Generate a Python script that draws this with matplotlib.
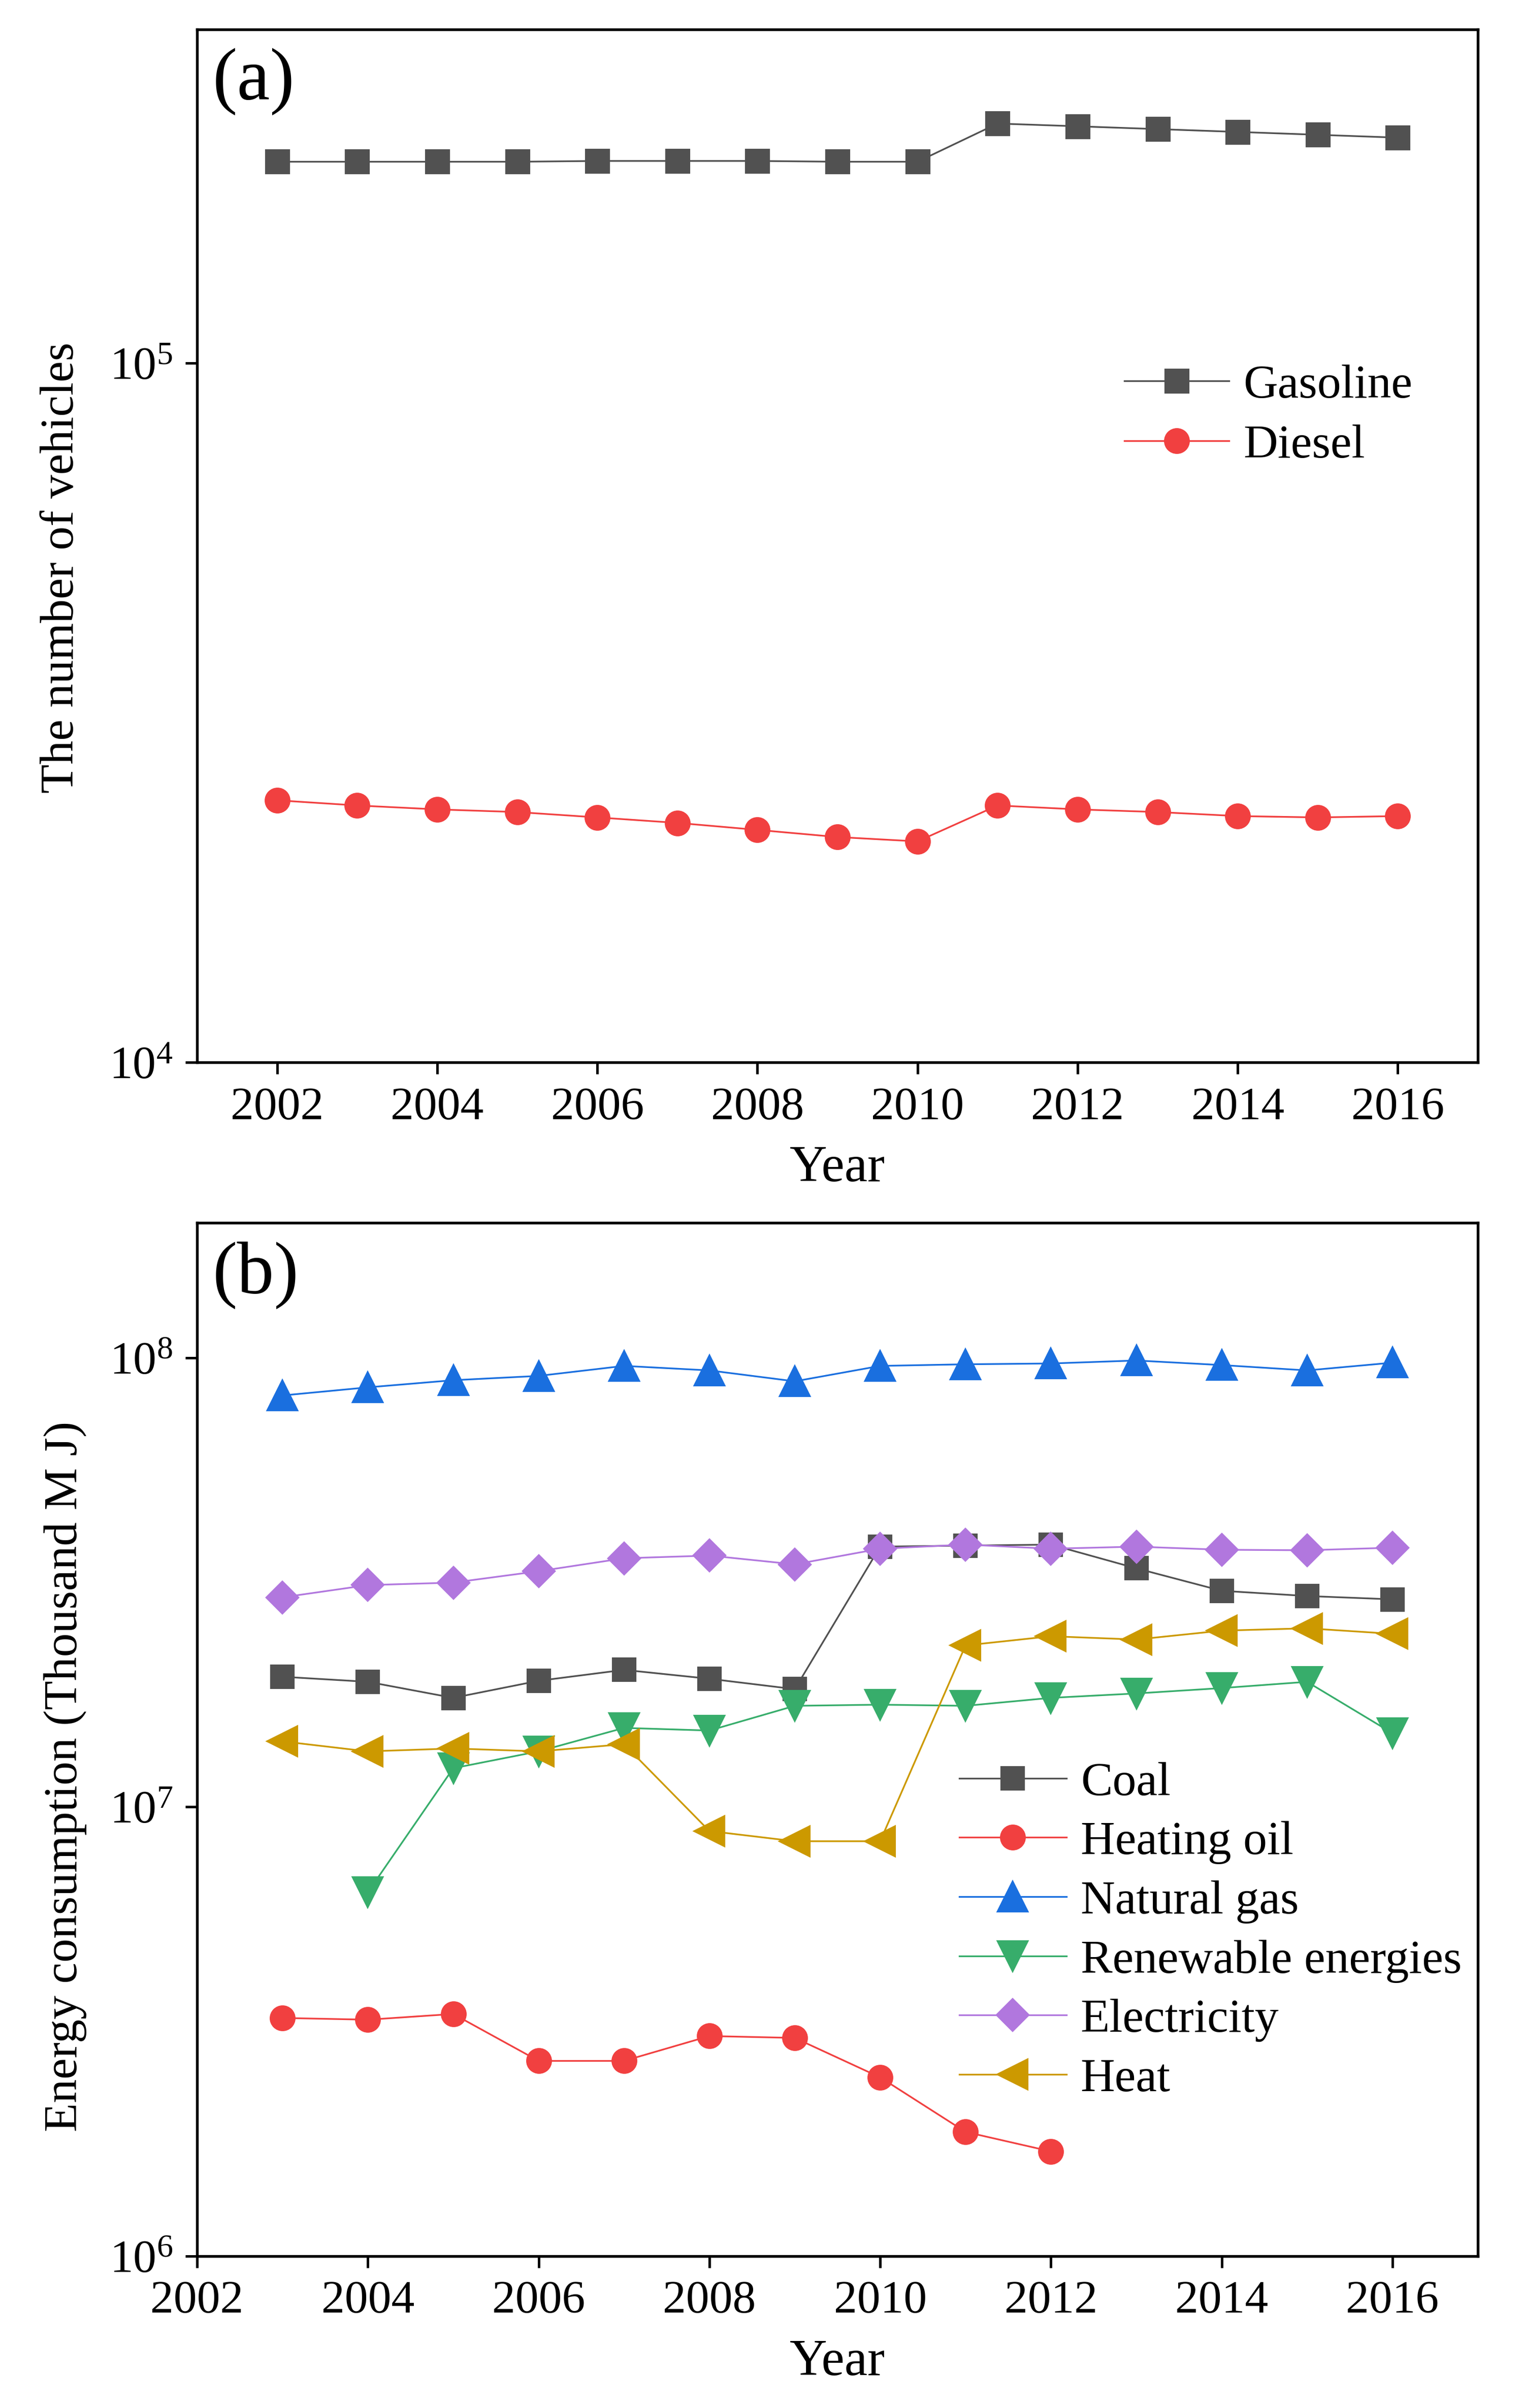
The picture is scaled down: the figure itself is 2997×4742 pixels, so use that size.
import numpy as np
import matplotlib
matplotlib.use("Agg")
import matplotlib.pyplot as plt
from matplotlib.ticker import NullLocator, LogLocator

# Times-like look
matplotlib.rcParams['font.family'] = ['Liberation Serif', 'DejaVu Serif']
matplotlib.rcParams['mathtext.fontset'] = 'custom'
matplotlib.rcParams['mathtext.rm'] = 'Liberation Serif'
matplotlib.rcParams['mathtext.it'] = 'Liberation Serif:italic'

# (a) number of vehicles
years_a = [2002, 2003, 2004, 2005, 2006, 2007, 2008, 2009, 2010, 2011, 2012, 2013, 2014, 2015, 2016]
gasoline = [1.94e5, 1.94e5, 1.94e5, 1.94e5, 1.945e5, 1.945e5, 1.945e5, 1.94e5, 1.94e5,
            2.20e5, 2.18e5, 2.16e5, 2.14e5, 2.12e5, 2.10e5]
diesel = [2.37e4, 2.33e4, 2.30e4, 2.28e4, 2.24e4, 2.20e4, 2.15e4, 2.10e4, 2.07e4,
          2.33e4, 2.30e4, 2.28e4, 2.25e4, 2.24e4, 2.25e4]

# (b) energy consumption (thousand MJ)
years_b = [2003, 2004, 2005, 2006, 2007, 2008, 2009, 2010, 2011, 2012, 2013, 2014, 2015, 2016]
coal = [1.95e7, 1.90e7, 1.75e7, 1.91e7, 2.02e7, 1.93e7, 1.83e7, 3.80e7, 3.82e7, 3.84e7,
        3.40e7, 3.03e7, 2.95e7, 2.90e7]
heating_oil = [3.39e6, 3.36e6, 3.46e6, 2.72e6, 2.72e6, 3.09e6, 3.06e6, 2.50e6, 1.89e6, 1.71e6]
years_oil = years_b[:10]
natural_gas = [8.25e7, 8.60e7, 8.92e7, 9.12e7, 9.60e7, 9.38e7, 8.87e7, 9.60e7, 9.68e7, 9.72e7,
               9.87e7, 9.64e7, 9.38e7, 9.76e7]
renewable = [6.46e6, 1.22e7, 1.33e7, 1.50e7, 1.48e7, 1.68e7, 1.69e7, 1.68e7, 1.75e7,
             1.79e7, 1.84e7, 1.90e7, 1.46e7]
years_ren = years_b[1:]
electricity = [2.93e7, 3.12e7, 3.16e7, 3.35e7, 3.58e7, 3.63e7, 3.47e7, 3.76e7, 3.84e7, 3.76e7,
               3.80e7, 3.74e7, 3.73e7, 3.78e7]
heat = [1.40e7, 1.33e7, 1.35e7, 1.33e7, 1.38e7, 8.84e6, 8.39e6, 8.39e6, 2.29e7, 2.40e7,
        2.36e7, 2.47e7, 2.50e7, 2.43e7]

c_gray = '#515151'
c_red = '#F14040'
c_blue = '#1A6FDF'
c_green = '#37AD6B'
c_purple = '#B177DE'
c_gold = '#CC9900'

fig = plt.figure(figsize=(9.99, 15.807), dpi=300)
ax1 = fig.add_axes([0.1295, 0.5588, 0.8415, 0.429])
ax2 = fig.add_axes([0.1295, 0.0631, 0.8415, 0.4291])

lw = 0.8


def style(ax):
    ax.set_yscale('log')
    ax.yaxis.set_major_locator(LogLocator(base=10, numticks=10))
    ax.yaxis.set_minor_locator(NullLocator())
    ax.tick_params(axis='both', which='major', direction='out', length=5.5, width=1.2,
                   labelsize=22, top=False, right=False, pad=6)
    for s in ax.spines.values():
        s.set_linewidth(1.3)
    ax.set_xlabel('Year', fontsize=24.5, labelpad=8)


# 面板 (a)
ax1.plot(years_a, gasoline, '-s', color=c_gray, lw=lw, ms=10.8, mec=c_gray, label='Gasoline')
ax1.plot(years_a, diesel, '-o', color=c_red, lw=lw, ms=11.2, mec=c_red, label='Diesel')
style(ax1)
ax1.set_xlim(2001, 2017)
ax1.set_ylim(1e4, 3e5)
ax1.set_xticks(np.arange(2002, 2017, 2))
ax1.set_ylabel('The number of vehicles', fontsize=22.5)
ax1.yaxis.set_label_coords(-0.089, 0.479)
ax1.text(0.012, 0.982, '(a)', transform=ax1.transAxes, fontsize=35, ha='left', va='top')
ax1.legend(loc='upper left', bbox_to_anchor=(0.724, 0.676), frameon=False, fontsize=22.5,
           handlelength=2.2, handletextpad=0.3, labelspacing=0.35, borderpad=0,
           borderaxespad=0)

# 面板 (b)
ax2.plot(years_b, coal, '-s', color=c_gray, lw=lw, ms=10.6, mec=c_gray, label='Coal')
ax2.plot(years_oil, heating_oil, '-o', color=c_red, lw=lw, ms=11.2, mec=c_red, label='Heating oil')
ax2.plot(years_b, natural_gas, '-^', color=c_blue, lw=lw, ms=14, mec=c_blue, label='Natural gas')
ax2.plot(years_ren, renewable, '-v', color=c_green, lw=lw, ms=14, mec=c_green, label='Renewable energies')
ax2.plot(years_b, electricity, '-D', color=c_purple, lw=lw, ms=10.5, mec=c_purple, label='Electricity')
ax2.plot(years_b, heat, '-<', color=c_gold, lw=lw, ms=14, mec=c_gold, label='Heat')
style(ax2)
ax2.set_xlim(2002, 2017)
ax2.set_ylim(1e6, 2e8)
ax2.set_xticks(np.arange(2002, 2017, 2))
ax2.set_ylabel('Energy consumption (Thousand M J)', fontsize=22.5)
ax2.yaxis.set_label_coords(-0.086, 0.464)
ax2.text(0.012, 0.982, '(b)', transform=ax2.transAxes, fontsize=35, ha='left', va='top')
ax2.legend(loc='upper left', bbox_to_anchor=(0.595, 0.4785), frameon=False, fontsize=22.5,
           handlelength=2.25, handletextpad=0.3, labelspacing=0.33, borderpad=0,
           borderaxespad=0)

plt.savefig('out.png', dpi=300)
